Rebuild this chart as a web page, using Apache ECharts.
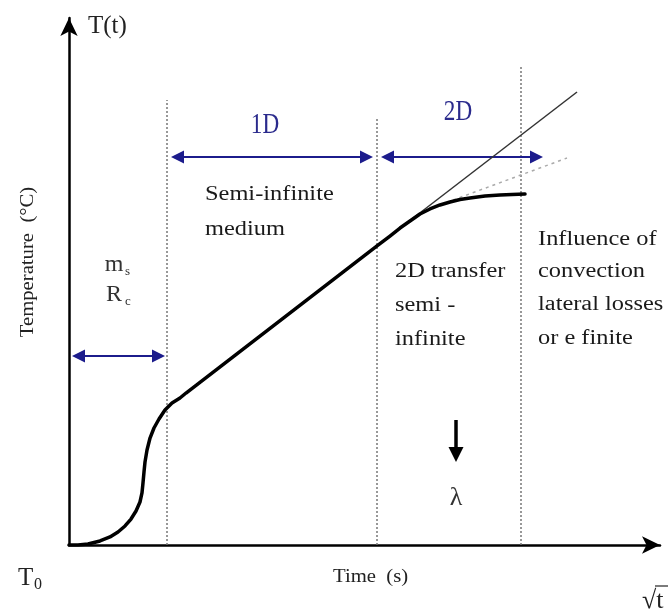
<!DOCTYPE html>
<html><head><meta charset="utf-8">
<script src="https://cdn.jsdelivr.net/npm/echarts@6/dist/echarts.min.js"></script>
<style>html,body{margin:0;padding:0;background:#fff}#c{width:668px;height:614px}</style>
</head><body><div id="c"></div>
<script>
// Main temperature curve T(t) (time units 0..100, temperature units 0..100)
const curveTime = [0, 1.52, 3.21, 5.25, 6.94, 8.29, 9.48, 10.49, 11.34, 12.01, 12.35, 12.52, 12.69, 12.86, 13.20, 13.71, 14.38, 15.23, 16.24, 17.43, 18.78, 19.80, 52.12, 54.31, 56.01, 57.70, 59.39, 61.08, 62.77, 64.47, 66.16, 67.85, 70.39, 72.93, 74.96, 77.16];
const curveTemp = [0, 0, 0.19, 0.76, 1.52, 2.47, 3.61, 4.93, 6.45, 8.16, 9.87, 11.76, 13.85, 15.75, 18.03, 20.30, 22.20, 23.91, 25.62, 26.94, 27.89, 28.84, 56.74, 58.63, 60.15, 61.48, 62.81, 63.76, 64.52, 65.09, 65.56, 65.84, 66.22, 66.41, 66.51, 66.60];
// Tangent line (linear regime extension)
const tangentTime = [19.12, 85.96];
const tangentTemp = [28.27, 85.96];
// Dotted deviation line
const dotTime = [64.97, 84.26];
const dotTemp = [65.46, 73.43];
// Vertical regime separators
const sepTime = [16.58, 52.12, 76.48];
const sepTop = [84.44, 81.02, 91.08];
// Blue regime arrows (arrow-head centres)
const arrowStart = [1.61, 18.36, 53.89];
const arrowEnd = [15.14, 50.34, 79.10];
const arrowLevel = [35.86, 73.62, 73.62];
// Down arrow (lambda)
const downTime = [65.48, 65.48];
const downTemp = [23.72, 17.17];
// Annotations
const blueText = ['1D', '2D'];
const blueTime = [33.16, 65.82];
const blueTemp = [79.70, 82.16];
const noteText = ['Semi-infinite', 'medium', '2D transfer', 'semi -', 'infinite', 'Influence of', 'convection', 'lateral losses', 'or e finite'];
const noteTime = [23.01, 23.01, 55.16, 55.16, 55.16, 79.36, 79.36, 79.36, 79.36];
const noteTemp = [66.41, 59.77, 51.80, 45.35, 38.90, 57.87, 51.80, 45.54, 39.09];
const symText = ['m', 'R', 'λ'];
const symSub = ['s', 'c', ''];
const symTime = [8.29, 8.29, 65.48];
const symTemp = [53.13, 47.44, 8.92];

const chart = echarts.init(document.getElementById('c'));
const axisCommon = {
  type: 'value', min: 0, max: 100,
  axisLine: { show: true, symbol: ['none', 'arrow'], symbolSize: [13, 18], lineStyle: { color: '#000', width: 2.5 } },
  axisTick: { show: false }, axisLabel: { show: false }, splitLine: { show: false }
};
const series = [
  {
    type: 'lines', coordinateSystem: 'cartesian2d', silent: true,
    lineStyle: { color: '#777', width: 1.5, type: [2, 2], opacity: 1 }, symbol: 'none',
    data: sepTime.map((t, i) => ({ coords: [[t, 0], [t, sepTop[i]]] }))
  },
  {
    type: 'line', symbol: 'none', lineStyle: { color: '#333', width: 1.5 },
    data: tangentTime.map((t, i) => [t, tangentTemp[i]])
  },
  {
    type: 'line', symbol: 'none', lineStyle: { color: '#aaa', width: 1.5, type: [3, 4] },
    data: dotTime.map((t, i) => [t, dotTemp[i]])
  },
  {
    type: 'line', symbol: 'none', smooth: false,
    lineStyle: { color: '#000', width: 3.5, join: 'round', cap: 'round' },
    data: curveTime.map((t, i) => [t, curveTemp[i]])
  },
  {
    type: 'lines', coordinateSystem: 'cartesian2d', silent: true,
    symbol: ['triangle', 'triangle'], symbolSize: 13,
    lineStyle: { color: '#1c1c8c', width: 2.2, opacity: 1 },
    data: arrowStart.map((s, i) => ({ coords: [[s, arrowLevel[i]], [arrowEnd[i], arrowLevel[i]]] }))
  },
  {
    type: 'lines', coordinateSystem: 'cartesian2d', silent: true,
    symbol: ['none', 'triangle'], symbolSize: 15,
    lineStyle: { color: '#000', width: 3.5, opacity: 1 },
    data: [{ coords: downTime.map((t, i) => [t, downTemp[i]]) }]
  }
];
chart.setOption({
  animation: false,
  grid: { left: 69, right: 8, top: 18, bottom: 69 },
  xAxis: axisCommon,
  yAxis: axisCommon,
  series: series
});

const serif = '"Liberation Serif", "Times New Roman", serif';
const g = [];
blueText.forEach((s, i) => {
  const p = chart.convertToPixel({ gridIndex: 0 }, [blueTime[i], blueTemp[i]]);
  g.push({ type: 'text', x: p[0], y: p[1], scaleX: 0.8,
    style: { text: s, font: '29px ' + serif, fill: '#2a2a8c', align: 'center', verticalAlign: 'middle' } });
});
noteText.forEach((s, i) => {
  const p = chart.convertToPixel({ gridIndex: 0 }, [noteTime[i], noteTemp[i]]);
  g.push({ type: 'text', x: p[0], y: p[1], scaleX: 1.22,
    style: { text: s, font: '20px ' + serif, fill: '#1a1a1a', align: 'left', verticalAlign: 'middle' } });
});
symText.forEach((s, i) => {
  const p = chart.convertToPixel({ gridIndex: 0 }, [symTime[i], symTemp[i]]);
  g.push({ type: 'text', x: p[0] - (symSub[i] ? 4 : 0), y: p[1],
    style: { text: s, font: (symSub[i] ? '24px ' : '26px ') + serif, fill: '#333', align: 'center', verticalAlign: 'middle' } });
  if (symSub[i]) {
    g.push({ type: 'text', x: p[0] + 7, y: p[1] + 7,
      style: { text: symSub[i], font: '13px ' + serif, fill: '#333', align: 'left', verticalAlign: 'middle' } });
  }
});
// axis titles
g.push({ type: 'text', x: 88, y: 26, style: { text: 'T(t)', font: '25px ' + serif, fill: '#222', align: 'left', verticalAlign: 'middle' } });
g.push({ type: 'text', x: 18, y: 578, style: { text: 'T', font: '25px ' + serif, fill: '#222', align: 'left', verticalAlign: 'middle' } });
g.push({ type: 'text', x: 34, y: 585, style: { text: '0', font: '16px ' + serif, fill: '#222', align: 'left', verticalAlign: 'middle' } });
g.push({ type: 'text', x: 333, y: 577, scaleX: 1.15, style: { text: 'Time  (s)', font: '18px ' + serif, fill: '#222', align: 'left', verticalAlign: 'middle' } });
g.push({ type: 'text', x: 642, y: 601, style: { text: '√t', font: '26px ' + serif, fill: '#222', align: 'left', verticalAlign: 'middle' } });
g.push({ type: 'line', shape: { x1: 655, y1: 586, x2: 668, y2: 586 }, style: { stroke: '#222', lineWidth: 1.2 } });
g.push({ type: 'text', x: 28, y: 262, rotation: Math.PI / 2, scaleX: 1.15,
  style: { text: 'Temperature  (°C)', font: '18px ' + serif, fill: '#222', align: 'center', verticalAlign: 'middle' } });
chart.setOption({ graphic: g });
</script></body></html>
